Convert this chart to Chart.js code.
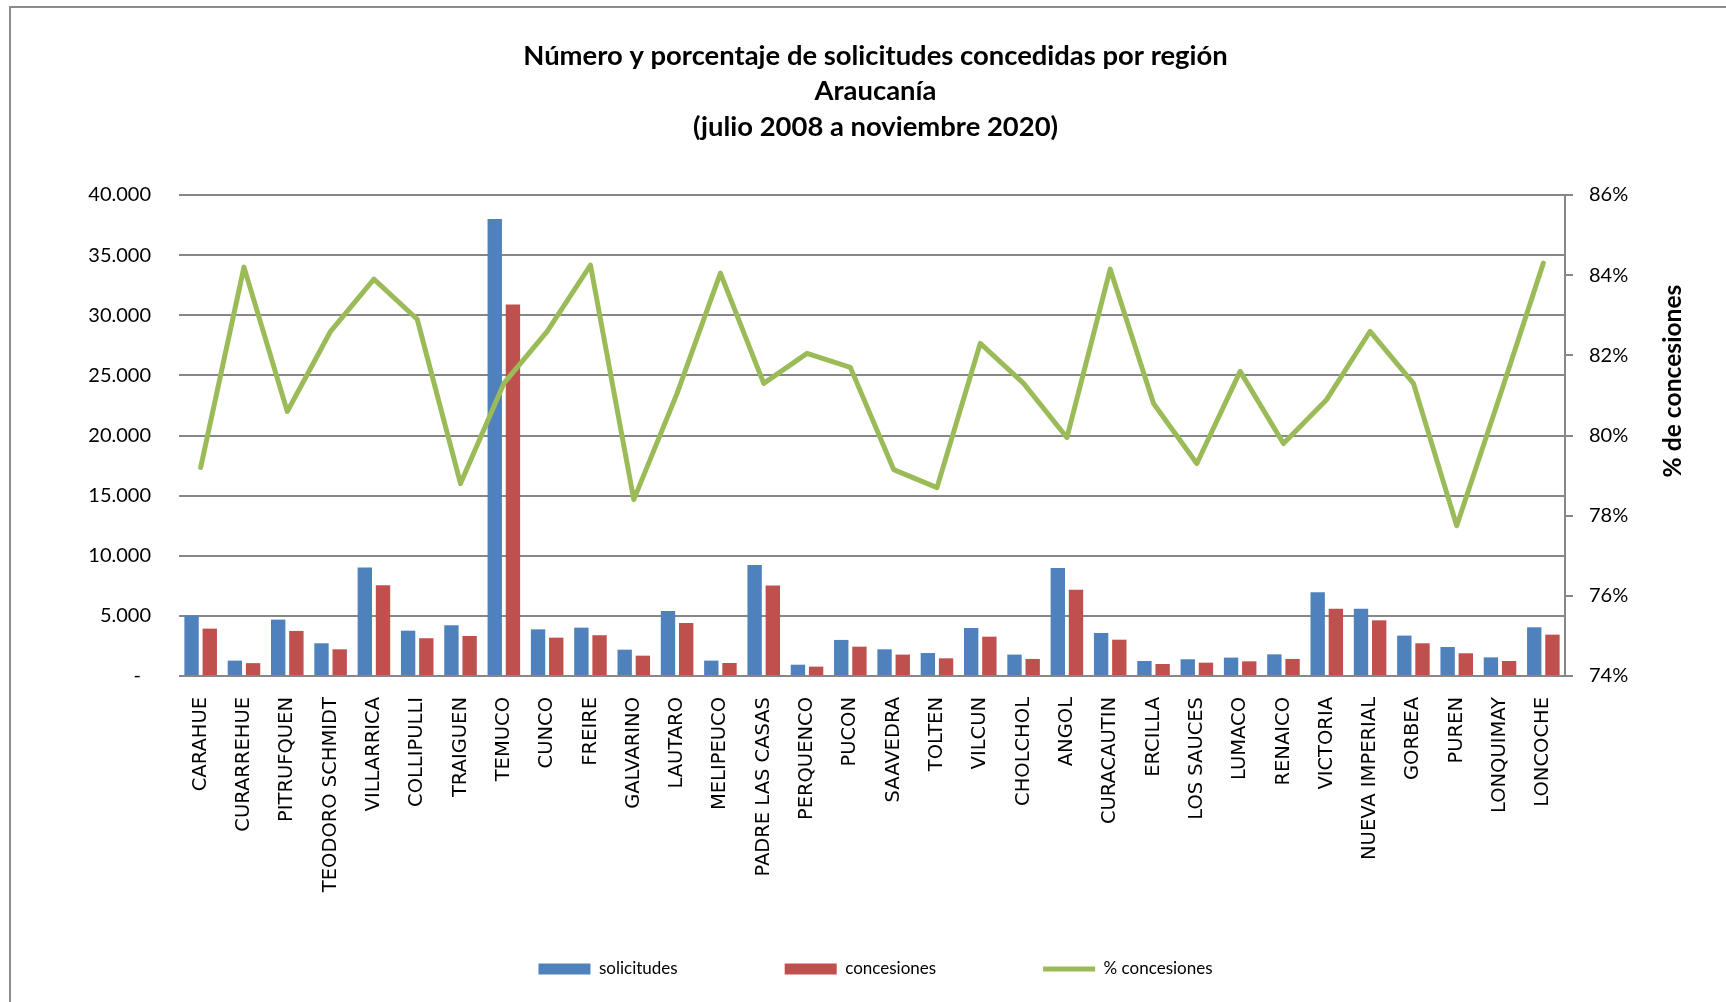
<!DOCTYPE html>
<html>
<head>
<meta charset="utf-8">
<script src="https://cdn.jsdelivr.net/npm/chart.js@4.4.0/dist/chart.umd.min.js"></script>
<style>
  html, body { margin: 0; padding: 0; background: #fff; overflow: hidden; }
  #wrap { position: relative; width: 1726px; height: 1002px; }
  #frame { position: absolute; left: 9px; top: 6px; width: 2000px; height: 2000px; border: 2px solid #8c8c8c; box-sizing: border-box; }
  canvas { position: absolute; left: 0; top: 0; }
</style>
</head>
<body>
<div id="wrap">
  <div id="frame"></div>
  <canvas id="c" width="1726" height="1002"></canvas>
</div>
<script>
const categories = ["CARAHUE","CURARREHUE","PITRUFQUEN","TEODORO SCHMIDT","VILLARRICA","COLLIPULLI","TRAIGUEN","TEMUCO","CUNCO","FREIRE","GALVARINO","LAUTARO","MELIPEUCO","PADRE LAS CASAS","PERQUENCO","PUCON","SAAVEDRA","TOLTEN","VILCUN","CHOLCHOL","ANGOL","CURACAUTIN","ERCILLA","LOS SAUCES","LUMACO","RENAICO","VICTORIA","NUEVA IMPERIAL","GORBEA","PUREN","LONQUIMAY","LONCOCHE"];
const solicitudes = [5020,1280,4690,2720,9020,3770,4220,38000,3880,4020,2190,5410,1280,9240,940,3000,2220,1910,3990,1780,8990,3580,1250,1390,1530,1800,6960,5600,3360,2410,1550,4050];
const concesiones = [3940,1070,3750,2220,7550,3140,3330,30900,3190,3390,1690,4410,1080,7520,780,2440,1780,1470,3270,1420,7180,3020,1000,1110,1220,1420,5600,4630,2720,1890,1250,3440];
const pctConcesiones = [79.2,84.2,80.6,82.6,83.9,82.9,78.8,81.3,82.6,84.25,78.4,81.05,84.05,81.3,82.05,81.7,79.15,78.7,82.3,81.3,79.95,84.15,80.8,79.3,81.6,79.8,80.9,82.6,81.3,77.75,81.0,84.3];
const leftTicks = { min: 0, max: 40000, step: 5000 };
const rightTicks = { min: 74, max: 86, step: 2 };
const titleLines = ["Número y porcentaje de solicitudes concedidas por región","Araucanía","(julio 2008 a noviembre 2020)"];
const seriesNames = ["solicitudes","concesiones","% concesiones"];
const rightAxisTitle = "% de concesiones";

const FONT = "Lato, 'Open Sans', sans-serif";
const GRID = "#878787";

// fit font sizes to the reference text widths
const mctx = document.createElement('canvas').getContext('2d');
mctx.font = "bold 24px " + FONT;
const titleSize = 24 * 705 / mctx.measureText(titleLines[0]).width;
const axisTitleSize = 24 * 193 / mctx.measureText(rightAxisTitle).width;

function fmtThousands(v) {
  if (v === 0) return "-\u2002";
  return String(v).replace(/\B(?=(\d{3})+(?!\d))/g, ".");
}

const PAD_L = 25, PAD_R = 0;

const axisTitlePlugin = {
  id: 'axisTitleRight',
  beforeDraw(chart) {
    // let rotated category labels run past the axis box, as in the reference
    chart.scales.x._computeLabelArea = () => undefined;
  },
  afterDraw(chart) {
    const s = chart.scales.y1;
    const ctx = chart.ctx;
    ctx.save();
    ctx.translate(s.left + 108, chart.chartArea.top + 186);
    ctx.rotate(-Math.PI / 2);
    ctx.font = "bold " + axisTitleSize + "px " + FONT;
    ctx.fillStyle = "#000";
    ctx.textAlign = "center";
    ctx.textBaseline = "middle";
    ctx.fillText(rightAxisTitle, 0, 0);
    ctx.restore();
  }
};

Chart.defaults.color = "#000";

new Chart(document.getElementById('c'), {
  type: 'bar',
  data: {
    labels: categories,
    datasets: [
      { label: seriesNames[0], data: solicitudes, backgroundColor: "#4F81BD", yAxisID: 'y', order: 1, pointStyle: 'rect',
        categoryPercentage: 0.84, barPercentage: 0.79 },
      { label: seriesNames[1], data: concesiones, backgroundColor: "#C0504D", yAxisID: 'y', order: 1, pointStyle: 'rect',
        categoryPercentage: 0.84, barPercentage: 0.79 },
      { type: 'line', label: seriesNames[2], data: pctConcesiones, yAxisID: 'y1', order: -1,
        borderColor: "#9BBB59", backgroundColor: "#9BBB59", borderWidth: 5, pointRadius: 0, pointHoverRadius: 0,
        tension: 0, borderCapStyle: 'round', borderJoinStyle: 'round', pointStyle: 'line', fill: false }
    ]
  },
  options: {
    responsive: false,
    animation: false,
    devicePixelRatio: 1,
    layout: { padding: { left: PAD_L, right: PAD_R, top: 0, bottom: 14.5 } },
    plugins: {
      tooltip: { enabled: false },
      title: {
        display: true,
        text: titleLines,
        color: "#000",
        font: { family: FONT, size: titleSize, weight: 'bold', lineHeight: '35.5px' },
        padding: { top: 38.25, bottom: 50.25 }
      },
      legend: {
        position: 'bottom',
        labels: {
          usePointStyle: true,
          pointStyleWidth: 52,
          boxHeight: 11,
          padding: 107,
          font: { family: FONT, size: 17 },
          color: "#000",
          sort: (a, b) => a.datasetIndex - b.datasetIndex
        }
      }
    },
    scales: {
      x: {
        grid: { display: false, drawTicks: false },
        border: { display: false },
        ticks: { autoSkip: false, minRotation: 90, maxRotation: 90, padding: 21,
                 font: { family: "'DejaVu Sans'", size: 19.5 } },
        afterFit(s) { s.height = 177.5; }
      },
      y: {
        position: 'left',
        min: leftTicks.min, max: leftTicks.max,
        ticks: { stepSize: leftTicks.step, padding: 28, font: { family: FONT, size: 20 },
                 callback: (v) => fmtThousands(v) },
        grid: { color: GRID, lineWidth: 2, drawTicks: false },
        border: { display: false },
        afterFit(s) { s.width = 179 - PAD_L; }
      },
      y1: {
        position: 'right',
        min: rightTicks.min, max: rightTicks.max,
        ticks: { stepSize: rightTicks.step, padding: 16, font: { family: FONT, size: 20 },
                 callback: (v) => v + "%" },
        grid: { drawOnChartArea: false, drawTicks: true, tickLength: 8, color: GRID, lineWidth: 2 },
        border: { display: true, color: GRID, width: 2 },
        afterFit(s) { s.width = 1726 - PAD_R - 1565; }
      }
    }
  },
  plugins: [axisTitlePlugin]
});
</script>
</body>
</html>
